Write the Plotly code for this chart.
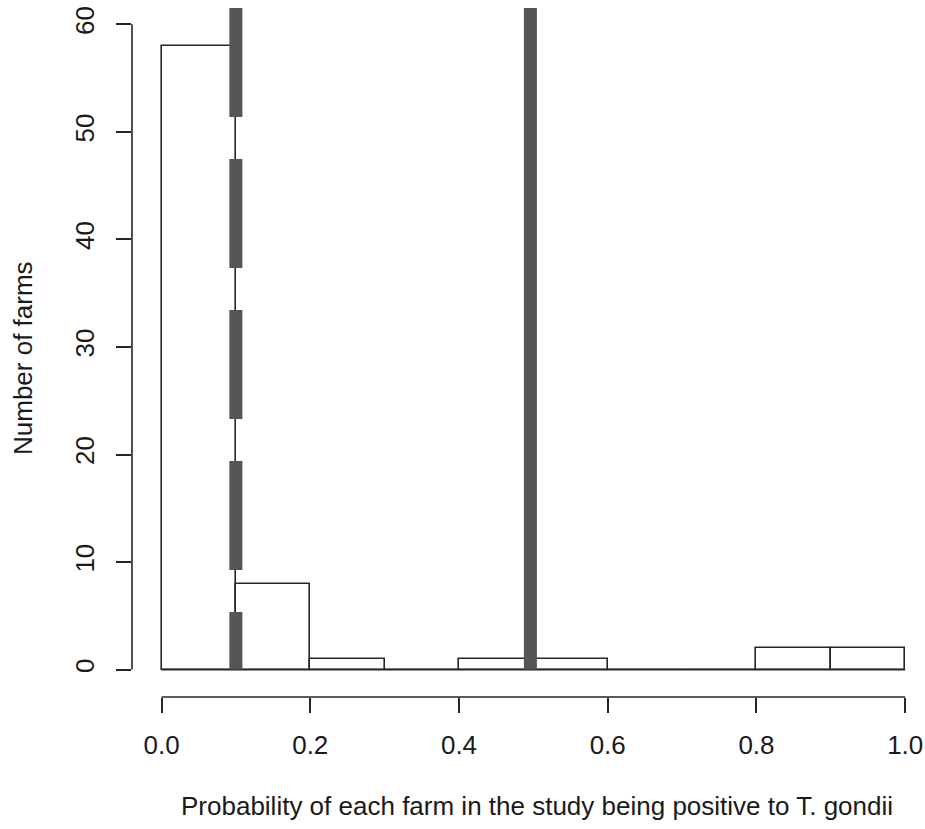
import plotly.graph_objects as go

# ---- data ----
bin_edges = [0.0, 0.1, 0.2, 0.3, 0.4, 0.5, 0.6, 0.7, 0.8, 0.9, 1.0]
counts = [58, 8, 1, 0, 1, 1, 0, 0, 2, 2]
x_ticks = [0.0, 0.2, 0.4, 0.6, 0.8, 1.0]
x_tick_labels = ["0.0", "0.2", "0.4", "0.6", "0.8", "1.0"]
y_ticks = [0, 10, 20, 30, 40, 50, 60]
y_tick_labels = ["0", "10", "20", "30", "40", "50", "60"]
dashed_line_x = 0.1
solid_line_x = 0.496

x_title = "Probability of each farm in the study being positive to T. gondii"
y_title = "Number of farms"

# ---- layout constants ----
W, H = 925, 829
X_RANGE = [-0.0397, 1.0266]
Y_RANGE = [-2.55, 61.52]
M_L, M_R, M_T, M_B = 132, 0, 8, 132
FONT = "Liberation Sans, Arial, sans-serif"
FS = 26
TXT = "#1a1a1a"
LINE = "#262626"
VCOL = "#555555"


def px_paper(v):
    return (v - X_RANGE[0]) / (X_RANGE[1] - X_RANGE[0])


def py_paper(v):
    return (v - Y_RANGE[0]) / (Y_RANGE[1] - Y_RANGE[0])


centers = [(a + b) / 2 for a, b in zip(bin_edges[:-1], bin_edges[1:])]
widths = [b - a for a, b in zip(bin_edges[:-1], bin_edges[1:])]

fig = go.Figure()
fig.add_trace(go.Bar(
    x=centers, y=counts, width=widths,
    marker=dict(color="white", line=dict(color=LINE, width=1.6)),
    hoverinfo="x+y", showlegend=False,
))
# zero-height bins are drawn as a baseline, like R's hist()
fig.add_trace(go.Scatter(
    x=[bin_edges[0], bin_edges[-1]], y=[0, 0], mode="lines",
    line=dict(color=LINE, width=1.6), hoverinfo="skip", showlegend=False,
))

shapes = []
# reference lines
shapes.append(dict(type="line", xref="x", yref="y",
                   x0=dashed_line_x, x1=dashed_line_x, y0=Y_RANGE[1], y1=0,
                   line=dict(color=VCOL, width=13, dash="109px,42px")))
shapes.append(dict(type="line", xref="x", yref="y",
                   x0=solid_line_x, x1=solid_line_x, y0=Y_RANGE[1], y1=0,
                   line=dict(color=VCOL, width=13)))
# R-style axis lines spanning first to last tick
shapes.append(dict(type="line", xref="paper", yref="paper",
                   x0=px_paper(x_ticks[0]), x1=px_paper(x_ticks[-1]), y0=0, y1=0,
                   line=dict(color=LINE, width=1.6)))
shapes.append(dict(type="line", xref="paper", yref="paper",
                   x0=0, x1=0, y0=py_paper(y_ticks[0]), y1=py_paper(y_ticks[-1]),
                   line=dict(color=LINE, width=1.6)))

annotations = [
    dict(text=x_title, xref="paper", yref="paper",
         x=(537 - M_L) / (W - M_L - M_R), y=(H - M_B - 806) / (H - M_T - M_B),
         xanchor="center", yanchor="middle", showarrow=False,
         font=dict(family=FONT, size=FS, color=TXT)),
    dict(text=y_title, xref="paper", yref="paper",
         x=(23 - M_L) / (W - M_L - M_R), y=(H - M_B - 358) / (H - M_T - M_B),
         xanchor="center", yanchor="middle", showarrow=False, textangle=-90,
         font=dict(family=FONT, size=FS, color=TXT)),
]

fig.update_layout(
    width=W, height=H,
    margin=dict(l=M_L, r=M_R, t=M_T, b=M_B, pad=0, autoexpand=False),
    paper_bgcolor="white", plot_bgcolor="white",
    bargap=0, shapes=shapes, annotations=annotations,
    font=dict(family=FONT, size=FS, color=TXT),
    xaxis=dict(range=X_RANGE, tickmode="array", tickvals=x_ticks, ticktext=x_tick_labels,
               ticks="outside", ticklen=15, tickwidth=1.6, tickcolor=LINE,
               showgrid=False, zeroline=False, showline=False, automargin=False,
               tickfont=dict(family=FONT, size=FS, color=TXT), ticklabelstandoff=10),
    yaxis=dict(range=Y_RANGE, tickmode="array", tickvals=y_ticks, ticktext=y_tick_labels,
               ticks="outside", ticklen=15, tickwidth=1.6, tickcolor=LINE,
               showgrid=False, zeroline=False, showline=False, tickangle=-90,
               automargin=False,
               tickfont=dict(family=FONT, size=FS, color=TXT), ticklabelstandoff=12),
)

fig.write_html(
    "out.html",
    config={"displayModeBar": False},
    post_script="document.body.style.margin='0';document.body.style.overflow='hidden';",
)
